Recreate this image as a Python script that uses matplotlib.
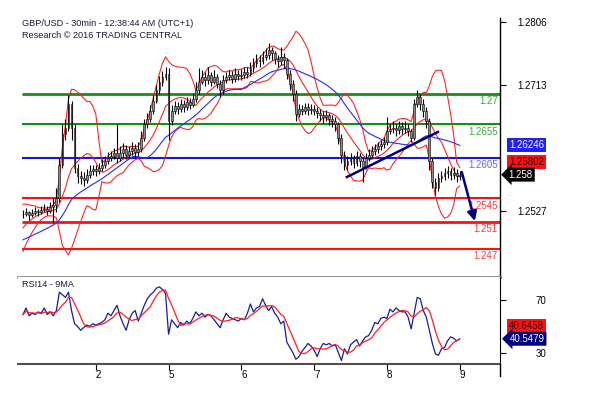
import numpy as np
import pandas as pd
import matplotlib
matplotlib.use("Agg")
import matplotlib.pyplot as plt
from matplotlib.lines import Line2D

plt.rcParams['font.family'] = ['Liberation Sans', 'DejaVu Sans']

# GBP/USD, one bar per hour, prices in pips above 1.2400
base = 1.24
warmup_pips = [78, 72, 70, 74, 68, 75, 72, 70, 76, 74, 71, 73, 77, 75, 70,
               62, 68, 80, 88, 95, 100, 108, 112, 118, 122]
close_pips = [122, 125, 120, 124, 126, 125, 128, 130, 127, 132,
              135, 145, 195, 240, 250, 285, 250, 190, 178, 175,
              172, 180, 186, 188, 185, 190, 195, 200, 205, 208,
              212, 205, 212, 218, 210, 215, 220, 214, 218, 235,
              255, 262, 275, 290, 305, 318, 325, 330, 260, 275,
              282, 278, 285, 280, 288, 284, 292, 305, 318, 325,
              320, 328, 318, 325, 315, 305, 320, 325, 328, 322,
              330, 326, 328, 332, 330, 338, 345, 350, 348, 355,
              358, 365, 360, 352, 348, 355, 350, 330, 315, 300,
              270, 278, 275, 280, 276, 278, 275, 272, 268, 265,
              268, 262, 260, 255, 235, 210, 195, 200, 205, 198,
              208, 200, 192, 205, 210, 215, 218, 222, 225, 228,
              245, 248, 250, 246, 252, 248, 250, 245, 235, 285,
              295, 285, 275, 260, 200, 170, 160, 175, 178, 182,
              185, 180, 183, 178, 180]
high_pips = [128, 131, 127, 129, 132, 130, 134, 137, 134, 139,
             145, 160, 206, 255, 262, 298, 290, 255, 196, 186,
             184, 188, 194, 195, 194, 198, 203, 208, 214, 216,
             220, 255, 222, 227, 224, 223, 229, 226, 228, 245,
             262, 272, 284, 298, 313, 327, 334, 340, 338, 284,
             290, 288, 293, 291, 296, 294, 301, 318, 338, 335,
             332, 340, 333, 336, 330, 320, 328, 333, 336, 334,
             338, 336, 337, 340, 339, 347, 353, 359, 357, 364,
             368, 375, 370, 364, 358, 370, 361, 353, 336, 320,
             305, 285, 284, 287, 286, 285, 284, 281, 278, 274,
             276, 272, 269, 265, 258, 240, 215, 208, 213, 210,
             216, 212, 205, 212, 218, 222, 226, 229, 232, 236,
             265, 256, 259, 256, 260, 258, 259, 256, 248, 292,
             306, 300, 292, 280, 264, 205, 176, 182, 186, 190,
             193, 190, 191, 188, 186]
low_pips = [116, 119, 113, 117, 120, 119, 122, 125, 121, 124,
            108, 125, 140, 190, 232, 245, 232, 182, 168, 166,
            163, 168, 176, 180, 178, 181, 186, 190, 196, 200,
            203, 198, 200, 207, 203, 205, 210, 206, 208, 214,
            230, 250, 258, 270, 286, 300, 312, 320, 231, 254,
            270, 270, 273, 273, 276, 278, 280, 288, 300, 314,
            312, 315, 311, 314, 308, 295, 300, 316, 320, 316,
            318, 320, 321, 324, 323, 326, 333, 340, 340, 344,
            350, 352, 350, 344, 339, 342, 338, 322, 305, 290,
            260, 265, 268, 270, 268, 270, 268, 264, 260, 257,
            259, 254, 251, 245, 225, 198, 187, 187, 195, 190,
            193, 192, 169, 188, 200, 205, 210, 213, 217, 220,
            224, 240, 242, 238, 241, 240, 242, 237, 229, 232,
            280, 276, 266, 250, 187, 160, 150, 156, 170, 173,
            176, 172, 174, 170, 173]
rsi14 = [59, 64, 58, 60, 59, 61, 60, 64, 59, 61,
         58, 62, 76, 74, 72, 76, 62, 52, 50, 47,
         49, 51, 50, 52, 51, 52, 53, 55, 60, 58,
         62, 66, 58, 52, 47, 55, 60, 62, 54, 60,
         66, 71, 74, 76, 79, 80, 78, 75, 44, 55,
         52, 49, 53, 51, 54, 52, 56, 61, 58, 60,
         57, 59, 58, 55, 52, 49, 55, 60, 57, 56,
         55, 54, 56, 55, 60, 67, 61, 64, 65, 71,
         66, 62, 65, 60, 57, 52, 54, 38, 34, 30,
         25, 27, 31, 34, 37, 35, 32, 27, 33, 37,
         36, 37, 35, 36, 30, 24, 33, 29, 36, 38,
         40, 35, 39, 42, 43, 47, 53, 52, 56, 57,
         56, 63, 61, 64, 62, 61, 61, 57, 48, 60,
         72, 71, 62, 57, 47, 37, 29, 28, 33, 34,
         39, 42, 41, 39, 40.5]

day_pos = [24, 48, 72, 96, 120, 144]
day_labels = ['2', '5', '6', '7', '8', '9']

levels = [1.27, 1.2655, 1.2605, 1.2545, 1.251, 1.247]
level_text = ['1.27', '1.2655', '1.2605', '1.2545', '1.251', '1.247']
level_colors = ['#129212', '#129212', '#1414e6', '#ff1010', '#ff1010', '#ff1010']
label_colors = ['#3aa83a', '#3aa83a', '#6464ff', '#ff3a3a', '#ff3a3a', '#ff3a3a']
level_widths = [2.0, 1.5, 1.5, 1.5, 2.0, 1.5]

price_ticks = [1.2527, 1.2713, 1.2806]
rsi_ticks = [30, 70]

trend_h = [106.8, 136.8]
trend_p = [1.25767, 1.26434]
arrow_h = [144.7, 149.0]
arrow_p = [1.25841, 1.25115]

warm = base + np.array(warmup_pips) / 10000
close = base + np.array(close_pips) / 10000
high = base + np.array(high_pips) / 10000
low = base + np.array(low_pips) / 10000
openp = np.r_[warm[-1], close[:-1]]
hrs = np.arange(len(close))

full = pd.Series(np.r_[warm, close])
n0 = len(warm)
mid = full.rolling(10).mean().values[n0:]
sd = full.rolling(10).std(ddof=0).values[n0:]
ma = full.rolling(25).mean().values[n0:]
rsi_ma = pd.Series(rsi14).rolling(5, min_periods=1).mean()

W, H = 589, 394
fig = plt.figure(figsize=(W / 100, H / 100), dpi=100)
ax = fig.add_axes([18 / W, 1 - 277 / H, 482 / W, 259 / H])
ax2 = fig.add_axes([18 / W, 1 - 364 / H, 482 / W, 87 / H])
xlim = (-1.65, 157.3)

# ---- price panel
ax.hlines(levels, -0.3, xlim[1], colors=level_colors, linewidths=level_widths, zorder=1)
for lv, txt, c in zip(levels, level_text, label_colors):
    ax.text(xlim[1] - 0.8, lv - 0.00035, txt, ha='right', va='top', color=c, fontsize=7)

ax.plot(hrs, mid + 2 * sd, color='#ff1a1a', lw=0.75, zorder=2)
ax.plot(hrs, mid, color='#ff1a1a', lw=0.75, zorder=2)
ax.plot(hrs, mid - 2 * sd, color='#ff1a1a', lw=0.75, zorder=2)
ax.plot(hrs, ma, color='#2a2aff', lw=0.8, zorder=2)

ax.vlines(hrs, low, high, color='black', lw=0.8, zorder=3)
ax.bar(hrs, close - openp, bottom=openp, width=0.6, color='#8c8c8c',
       edgecolor='black', linewidth=0.4, zorder=4)

ax.plot(trend_h, trend_p, color='#000080', lw=1.8, zorder=5)
ax.annotate('', xy=(arrow_h[1], arrow_p[1]), xytext=(arrow_h[0], arrow_p[0]),
            arrowprops=dict(arrowstyle='-|>', color='#000080', lw=1.8,
                            mutation_scale=14, shrinkA=0, shrinkB=0), zorder=5)

ax.set_xlim(xlim)
ax.set_ylim(1.24286, 1.28123)
ax.set_xticks([])
ax.set_yticks(price_ticks, [f'{p:.4f}' for p in price_ticks])
ax.tick_params(axis='y', left=False, labelleft=False, right=True, labelright=True,
               length=4, pad=29.5, labelsize=7, colors='black')
for t in ax.yaxis.get_major_ticks():
    t.label2.set_horizontalalignment('right')
for s in ['top', 'left']:
    ax.spines[s].set_visible(False)
ax.spines['bottom'].set_color('#8a8a8a')
ax.spines['bottom'].set_linewidth(2)
ax.spines['right'].set_color('black')
ax.spines['right'].set_linewidth(1)

ytr = ax.get_yaxis_transform()
ax.text(1.055, 1.26246, '1.26246', transform=ytr, ha='center', va='center', color='white',
        fontsize=7, clip_on=False,
        bbox=dict(boxstyle='square,pad=0.2', fc='#2020ff', ec='none'))
ax.text(1.055, 1.25989, '1.25802', transform=ytr, ha='center', va='center', color='#300000',
        fontsize=7, clip_on=False,
        bbox=dict(boxstyle='square,pad=0.2', fc='#ff1010', ec='none'))
ax.text(1.043, 1.25802, '1.258', transform=ytr, ha='center', va='center', color='white',
        fontsize=7, clip_on=False,
        bbox=dict(boxstyle='larrow,pad=0.2', fc='black', ec='none'))

# ---- RSI panel
ax2.plot(np.arange(len(rsi14)), rsi14, color='#1c1c9c', lw=0.9)
ax2.plot(np.arange(len(rsi14)), rsi_ma, color='#ff2020', lw=0.9)
ax2.set_xlim(xlim)
ax2.set_ylim(21.4, 87.5)
ax2.set_yticks(rsi_ticks, [str(v) for v in rsi_ticks])
ax2.tick_params(axis='y', left=False, labelleft=False, right=True, labelright=True,
                length=4, pad=29.5, labelsize=7)
for t in ax2.yaxis.get_major_ticks():
    t.label2.set_horizontalalignment('right')
ax2.set_xticks(day_pos, day_labels)
ax2.tick_params(axis='x', length=4, pad=0, labelsize=7)
for t in ax2.xaxis.get_major_ticks():
    t.label1.set_horizontalalignment('left')
for s in ['top', 'left']:
    ax2.spines[s].set_visible(False)
ax2.spines['bottom'].set_color('#505050')
ax2.spines['bottom'].set_linewidth(1.5)
ax2.spines['right'].set_color('black')
ax2.text(0.008, 0.96, 'RSI14 - 9MA', transform=ax2.transAxes, ha='left', va='top',
         fontsize=6.6, color='#1a1a3a')

ytr2 = ax2.get_yaxis_transform()
ax2.text(1.055, 50.3, '40.6458', transform=ytr2, ha='center', va='center', color='#300000',
         fontsize=7, clip_on=False,
         bbox=dict(boxstyle='square,pad=0.2', fc='#ff1010', ec='none'))
ax2.text(1.056, 40.5479, '40.5479', transform=ytr2, ha='center', va='center', color='white',
         fontsize=7, clip_on=False,
         bbox=dict(boxstyle='larrow,pad=0.2', fc='#000080', ec='none'))

fig.add_artist(Line2D([500 / W, 500 / W], [1 - 364 / H, 1 - 376 / H], color='black', lw=1))

fig.text(22 / W, 1 - 24 / H, 'GBP/USD - 30min - 12:38:44 AM (UTC+1)', fontsize=6.6,
         color='#1a1a3a', va='center')
fig.text(22 / W, 1 - 35.5 / H, 'Research \u00a9 2016 TRADING CENTRAL', fontsize=6.6,
         color='#1a1a3a', va='center')

fig.savefig('out.png', dpi=100)
